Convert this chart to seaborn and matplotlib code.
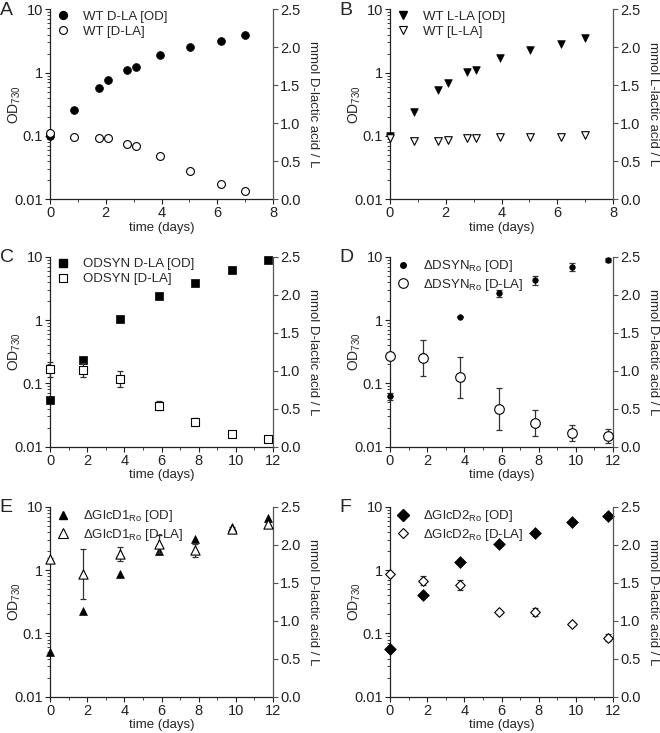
import numpy as np
import matplotlib
matplotlib.use("Agg")
import matplotlib.pyplot as plt
import matplotlib.ticker as mticker
import seaborn as sns

sns.set_style("ticks")
plt.rcParams['font.family'] = ['Liberation Sans', 'DejaVu Sans']
plt.rcParams['mathtext.fontset'] = 'custom'
plt.rcParams['mathtext.rm'] = 'Liberation Sans'
plt.rcParams['mathtext.it'] = 'Liberation Sans:italic'

# time points (days)
t_wt = [0, 0.87, 1.74, 2.07, 2.77, 3.08, 3.96, 5.02, 6.14, 7.0]
t_mut = [0, 1.75, 3.76, 5.87, 7.78, 9.77, 11.73]

# A: WT D-LA
od_A = [0.101, 0.254, 0.573, 0.757, 1.11, 1.24, 1.90, 2.57, 3.2, 3.88]
la_A = [0.877, 0.816, 0.803, 0.807, 0.728, 0.702, 0.566, 0.373, 0.202, 0.110]

# B: WT L-LA
od_B = [0.101, 0.237, 0.526, 0.695, 1.01, 1.09, 1.71, 2.28, 2.84, 3.57]
la_B = [0.803, 0.763, 0.772, 0.776, 0.803, 0.811, 0.816, 0.820, 0.816, 0.851]

# C: ODSYN
od_C = [0.0546, 0.234, 1.03, 2.36, 3.88, 6.16, 8.75]
la_C = [1.017, 1.008, 0.893, 0.537, 0.326, 0.172, 0.106]
la_C_err = [0.10, 0.095, 0.105, 0.06, 0.045, 0.03, 0.02]

# D: dDSYN
od_D = [0.063, 0.27, 1.13, 2.64, 4.28, 6.87, 8.85]
od_D_err = [0.008, 0.02, 0.03, 0.33, 0.72, 0.95, 0.6]
la_D = [1.197, 1.166, 0.911, 0.497, 0.317, 0.185, 0.145]
la_D_err = [0.02, 0.24, 0.27, 0.28, 0.17, 0.105, 0.09]

# E: dGlcD1
od_E = [0.0513, 0.228, 0.865, 2.02, 3.09, 4.72, 6.54]
la_E = [1.811, 1.618, 1.877, 2.009, 1.925, 2.207, 2.273]
la_E_err = [0.02, 0.33, 0.09, 0.115, 0.085, 0.03, 0.03]

# F: dGlcD2
od_F = [0.0566, 0.403, 1.32, 2.61, 3.88, 5.73, 7.21]
la_F = [1.618, 1.525, 1.468, 1.112, 1.116, 0.963, 0.774]
la_F_err = [0.02, 0.06, 0.065, 0.02, 0.05, 0.02, 0.045]

RO = r'$_{\mathrm{Ro}}$'
D_LA_LABEL = 'mmol D-lactic acid / L'
L_LA_LABEL = 'mmol L-lactic acid / L'

ERR_COLOR = '#333333'
FS = 9.5       # labels and legend
TICK_FS = 10.5


def panel(rect, letter, t, od, la, mk_od, mk_la, labels, xmax, ylab2,
          od_err=None, la_err=None, s_od=30, s_la=30):
    ax = fig.add_axes(rect)
    ax2 = ax.twinx()

    ax.set_yscale('log')
    ax.set_ylim(0.01, 10)
    ax.set_xlim(0, xmax)
    ax2.set_ylim(0, 2.5)

    if od_err is not None:
        ax.errorbar(t, od, yerr=od_err, fmt='none', ecolor=ERR_COLOR,
                    elinewidth=0.9, capsize=2.5, capthick=0.9, clip_on=False, zorder=2)
    if la_err is not None:
        ax2.errorbar(t, la, yerr=la_err, fmt='none', ecolor=ERR_COLOR,
                     elinewidth=0.9, capsize=2.5, capthick=0.9, clip_on=False, zorder=2)

    sns.scatterplot(x=t, y=od, ax=ax, marker=mk_od, s=s_od, color='black',
                    edgecolor='black', linewidth=0.5, clip_on=False, zorder=3,
                    legend=False)
    sns.scatterplot(x=t, y=la, ax=ax2, marker=mk_la, s=s_la, facecolor='white',
                    edgecolor='black', linewidth=0.8, clip_on=False, zorder=3,
                    legend=False)

    # left log axis
    ax.yaxis.set_major_locator(mticker.FixedLocator([0.01, 0.1, 1, 10]))
    ax.yaxis.set_major_formatter(mticker.FixedFormatter(['0.01', '0.1', '1', '10']))
    ax.yaxis.set_minor_locator(mticker.LogLocator(base=10, subs=np.arange(2, 10)))
    ax.yaxis.set_minor_formatter(mticker.NullFormatter())
    ax.xaxis.set_major_locator(mticker.MultipleLocator(2))
    ax.xaxis.set_minor_locator(mticker.MultipleLocator(1))
    ax2.yaxis.set_major_locator(mticker.MultipleLocator(0.5))
    ax2.yaxis.set_major_formatter(mticker.FormatStrFormatter('%.1f'))

    for a in (ax, ax2):
        a.tick_params(which='major', direction='out', length=3.5, width=0.8,
                      labelsize=TICK_FS, pad=1.5, colors='#222222')
        a.tick_params(which='minor', direction='out', length=2, width=0.6,
                      colors='#222222')
        a.spines['top'].set_visible(False)
    ax.spines['right'].set_visible(False)
    ax2.spines['left'].set_visible(False)
    ax2.spines['bottom'].set_visible(False)
    ax.spines['left'].set_color('#222222')
    ax.spines['bottom'].set_color('#222222')
    ax2.spines['right'].set_color('#555555')
    for sp in (ax.spines['left'], ax.spines['bottom'], ax2.spines['right']):
        sp.set_linewidth(0.9)
    ax2.tick_params(axis='y', colors='#555555', labelcolor='#222222')

    ax.set_xlabel('time (days)', fontsize=FS)
    ax.xaxis.set_label_coords(0.5, -0.118)
    ax.set_ylabel(r'OD$_{730}$', fontsize=10)
    ax.yaxis.set_label_coords(-0.12, 0.5)
    ax2.set_ylabel(ylab2, fontsize=FS, rotation=270, va='center')
    ax2.yaxis.set_label_coords(1.18, 0.5)

    h1 = plt.Line2D([], [], marker=mk_od, linestyle='none', color='black',
                    markersize=np.sqrt(s_od))
    h2 = plt.Line2D([], [], marker=mk_la, linestyle='none', markerfacecolor='white',
                    markeredgecolor='black', markeredgewidth=0.8,
                    markersize=np.sqrt(s_la))
    ax2.legend([h1, h2], labels, loc='upper left', bbox_to_anchor=(0.0, 1.02),
               frameon=False, fontsize=FS, handlelength=1.2,
               handletextpad=0.9, labelspacing=0.2, borderpad=0.2,
               borderaxespad=0.2)

    fig.text(rect[0] - 0.076, rect[1] + rect[3] + 0.01, letter, fontsize=14,
             ha='left', va='top')
    return ax, ax2


fig = plt.figure(figsize=(6.6, 7.33), dpi=100)

W, H = 0.3379, 0.2592
XL, XR = 0.0758, 0.5909
Y1, Y2, Y3 = 0.7281, 0.3906, 0.0495

panel([XL, Y1, W, H], 'A', t_wt, od_A, la_A, 'o', 'o',
      ['WT D-LA [OD]', 'WT [D-LA]'], 8, D_LA_LABEL, s_od=32, s_la=32)
panel([XR, Y1, W, H], 'B', t_wt, od_B, la_B, 'v', 'v',
      ['WT L-LA [OD]', 'WT [L-LA]'], 8, L_LA_LABEL, s_od=30, s_la=30)
panel([XL, Y2, W, H], 'C', t_mut, od_C, la_C, 's', 's',
      ['ODSYN D-LA [OD]', 'ODSYN [D-LA]'], 12, D_LA_LABEL,
      la_err=la_C_err, s_od=28, s_la=28)
panel([XR, Y2, W, H], 'D', t_mut, od_D, la_D, 'o', 'o',
      ['\u0394DSYN' + RO + ' [OD]', '\u0394DSYN' + RO + ' [D-LA]'], 12, D_LA_LABEL,
      od_err=od_D_err, la_err=la_D_err, s_od=16, s_la=48)
panel([XL, Y3, W, H], 'E', t_mut, od_E, la_E, '^', '^',
      ['\u0394GlcD1' + RO + ' [OD]', '\u0394GlcD1' + RO + ' [D-LA]'], 12, D_LA_LABEL,
      la_err=la_E_err, s_od=32, s_la=44)
panel([XR, Y3, W, H], 'F', t_mut, od_F, la_F, 'D', 'D',
      ['\u0394GlcD2' + RO + ' [OD]', '\u0394GlcD2' + RO + ' [D-LA]'], 12, D_LA_LABEL,
      la_err=la_F_err, s_od=36, s_la=24)

fig.savefig('out.png', dpi=100)
